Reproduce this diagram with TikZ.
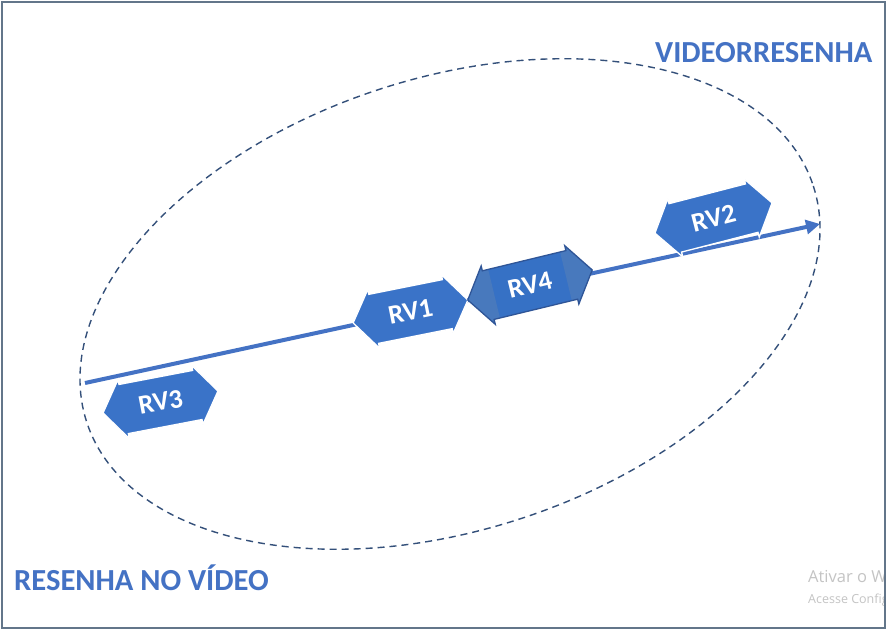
\documentclass[tikz,border=0pt]{standalone}
\usepackage{fontspec}
\setmainfont{Carlito}
\newfontfamily\wmfont{Open Sans}
\usetikzlibrary{arrows.meta}
\definecolor{frameC}{HTML}{63768A}
\definecolor{titleC}{HTML}{4472C4}
\definecolor{lineC}{HTML}{4472C4}
\definecolor{rvC}{HTML}{3A73C8}
\definecolor{rvfourC}{HTML}{3671C5}
\definecolor{rvfourhead}{HTML}{4879BD}
\definecolor{rvfouredge}{HTML}{2F5597}
\definecolor{ellC}{HTML}{34507A}
\definecolor{wmC}{HTML}{C4C4C4}
\tikzset{
  rvbox/.style={fill=rvC, draw=white, line width=1.3pt, line join=miter},
  rvlabel/.style={text=white, font=\fontsize{27}{27}\selectfont\bfseries, inner sep=0pt},
  title/.style={text=titleC, font=\fontsize{30.6}{30.6}\selectfont\bfseries, inner sep=0pt},
  mainline/.style={draw=lineC, line width=4pt, -{Triangle[length=14pt,width=14pt]}},
  dashell/.style={draw=ellC, line width=1.4pt, dash pattern=on 7pt off 5pt},
  framebox/.style={draw=frameC, line width=2pt},
  wm/.style={text=wmC, inner sep=0pt, anchor=base west}
}
% #1 center, #2 angle, #3 half length, #4 style
\newcommand\rvpath[4]{%
  \begin{scope}[shift={#1},rotate=#2]
    \path[#4] (-#3,0) -- (-#3+21,-30) -- (-#3+21,-25) -- (#3-21,-25) -- (#3-21,-30)
      -- (#3,0) -- (#3-21,30) -- (#3-21,25) -- (-#3+21,25) -- (-#3+21,30) -- cycle;
  \end{scope}}
\begin{document}
\begin{tikzpicture}[x=1pt,y=-1pt]
\useasboundingbox (0,0) rectangle (893,631);
\fill[white] (0,0) rectangle (893,631);
% dashed ellipse
\coordinate (ec) at (450,304);
\begin{scope}[shift={(ec)},rotate=18]
  \draw[dashell] (0,0) ellipse [x radius=382, y radius=226];
\end{scope}
% main axis
\coordinate (start) at (85,383);
\coordinate (end) at (820,224);
\draw[mainline] (start) -- (end);
% RV3, RV1, RV2
\rvpath{(160.5,402)}{10.8}{58.5}{rvbox}
\node[rvlabel,rotate=10.8] (rv3) at (160.5,402) {RV3};
\rvpath{(410.5,311.5)}{11.3}{58.5}{rvbox}
\node[rvlabel,rotate=11.3] (rv1) at (410.5,311.5) {RV1};
\rvpath{(713.5,218)}{14.5}{60.5}{rvbox}
\node[rvlabel,rotate=14.5] (rv2) at (713.5,218) {RV2};
% RV4 with slightly lighter heads
\begin{scope}[shift={(530,285)},rotate=13.6]
  \fill[rvfourC] (-64,0) -- (-43,-30) -- (-43,-25) -- (43,-25) -- (43,-30)
      -- (64,0) -- (43,30) -- (43,25) -- (-43,25) -- (-43,30) -- cycle;
  \fill[rvfourhead] (-64,0) -- (-43,-30) -- (-43,-25) -- (-37,-25) -- (-37,25) -- (-43,25) -- (-43,30) -- cycle;
  \fill[rvfourhead] (64,0) -- (43,-30) -- (43,-25) -- (37,-25) -- (37,25) -- (43,25) -- (43,30) -- cycle;
  \draw[rvfouredge, line width=1.3pt] (-64,0) -- (-43,-30) -- (-43,-25) -- (43,-25) -- (43,-30)
      -- (64,0) -- (43,30) -- (43,25) -- (-43,25) -- (-43,30) -- cycle;
\end{scope}
\node[rvlabel,rotate=13.6] (rv4) at (530,285) {RV4};
% titles
\node[title, anchor=base west] (vr) at (655,63) {VIDEORRESENHA};
\node[title, anchor=base west] (rnv) at (14,590) {RESENHA NO VÍDEO};
% watermark
\begin{scope}
  \clip (0,0) rectangle (885,631);
  \node[wm, font=\wmfont\fontsize{16.5}{16.5}\selectfont] (wm1) at (808,582) {Ativar o Windows};
  \node[wm, font=\wmfont\fontsize{12.5}{12.5}\selectfont] (wm2) at (808,603) {Acesse Configurações};
\end{scope}
% frame
\draw[framebox] (2,2) rectangle (885,628);
\end{tikzpicture}
\end{document}
